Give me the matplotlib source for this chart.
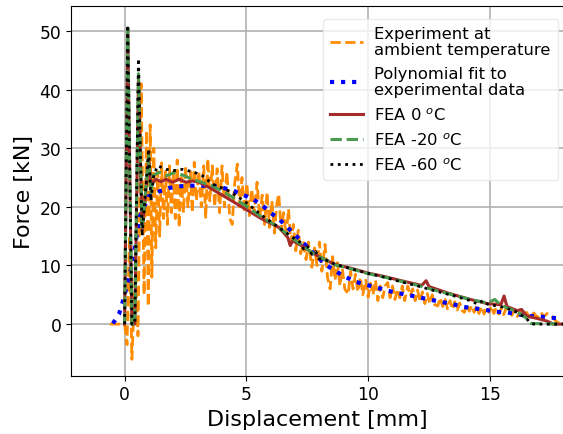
import matplotlib
matplotlib.use("Agg")
import matplotlib.pyplot as plt

# ---------------- data ----------------
exp_x = [-0.6, 0.0, 0.1, 0.2, 0.3, 0.45, 0.55, 0.68, 0.8, 0.9, 0.97, 1.05, 1.12, 1.2, 1.28, 1.36,
         1.44, 1.52, 1.6, 1.68, 1.76, 1.84, 1.92, 2.0, 2.08, 2.16, 2.24, 2.32, 2.42, 2.5, 2.6, 2.7,
         2.78, 2.86, 2.95, 3.05, 3.15, 3.25, 3.33, 3.42, 3.5, 3.6, 3.7, 3.8, 3.9, 4.0, 4.1, 4.2,
         4.32, 4.42, 4.52, 4.63, 4.72, 4.82, 4.92, 5.02, 5.12, 5.22, 5.32, 5.44, 5.55, 5.65, 5.75,
         5.85, 5.95, 6.05, 6.15, 6.25, 6.33, 6.43, 6.53, 6.63, 6.73, 6.83, 6.93, 7.03, 7.13, 7.23,
         7.35, 7.45, 7.55, 7.69, 7.8, 7.9, 8.0, 8.1, 8.23, 8.33, 8.44, 8.54, 8.64, 8.74, 8.84, 8.94,
         9.04, 9.18, 9.28, 9.38, 9.48, 9.58, 9.68, 9.78, 9.9, 10.0, 10.1, 10.2, 10.3, 10.4, 10.5,
         10.6, 10.7, 10.8, 10.9, 11.0, 11.1, 11.2, 11.3, 11.4, 11.5, 11.63, 11.73, 11.83, 11.93,
         12.03, 12.13, 12.23, 12.33, 12.43, 12.53, 12.63, 12.73, 12.86, 12.96, 13.06, 13.16, 13.26,
         13.36, 13.46, 13.56, 13.66, 13.76, 13.86, 13.95, 14.05, 14.15, 14.25, 14.35, 14.45, 14.55,
         14.65, 14.76, 14.86, 14.96, 15.06, 15.16, 15.26, 15.36, 15.46, 15.56, 15.68, 15.8, 15.9,
         16.0, 16.12, 16.25, 16.35, 16.5, 16.65, 16.8, 16.95, 17.1, 17.2, 17.35, 17.5, 17.6, 17.76, 18.0]
exp_y = [0.0, 0.0, -3.5, 15.0, -6.0, 10.0, -2.0, 41.0, 5.0, 33.0, 3.0, 34.0, 8.0, 30.0, 13.0, 26.0,
         15.0, 27.5, 18.0, 26.0, 17.0, 27.0, 19.0, 26.0, 18.0, 28.0, 16.5, 25.0, 19.0, 27.0, 20.0, 26.0,
         19.0, 27.6, 21.0, 26.0, 20.0, 27.0, 18.0, 28.2, 21.0, 27.0, 20.0, 26.5, 19.0, 27.0, 20.0, 26.0,
         18.0, 17.0, 24.0, 27.3, 20.0, 25.0, 19.0, 24.0, 18.5, 23.0, 19.0, 24.2, 18.0, 22.0, 17.0,
         22.5, 16.5, 21.0, 15.5, 20.5, 22.2, 16.0, 19.0, 15.0, 19.6, 14.0, 17.0, 12.5, 16.0, 12.0,
         13.9, 11.0, 14.0, 9.7, 13.0, 10.0, 14.0, 9.0, 13.6, 8.0, 6.0, 11.5, 7.5, 10.5, 6.5, 9.5,
         6.0, 5.1, 9.0, 6.0, 8.5, 5.5, 8.0, 5.0, 7.5, 4.6, 7.0, 5.0, 7.5, 4.0, 6.5,
         4.5, 6.5, 7.1, 4.5, 6.5, 4.2, 6.0, 4.5, 6.5, 4.0, 6.5, 4.8, 6.0, 4.0,
         5.8, 3.8, 5.5, 3.5, 5.2, 3.5, 5.0, 3.3, 3.1, 4.5, 3.0, 4.2, 2.6,
         4.0, 2.5, 3.8, 2.4, 3.6, 2.3, 2.0, 3.4, 2.2, 3.2, 2.0, 3.1, 1.8,
         3.0, 1.7, 3.0, 2.0, 3.1, 1.8, 2.8, 1.7, 2.6, 1.6, 2.85, 2.4, 1.5,
         2.3, 1.3, 2.1, 1.2, 2.0, 1.0, 1.9, 1.1, 2.0, 1.3, 1.8, 1.6, 1.0, 0.3, 0.2]

poly_x = [-0.48, -0.23, -0.09, 0.14, 0.34, 0.48, 0.61, 0.99, 1.4, 1.81, 2.24, 2.72, 3.2, 3.6, 4.08,
          4.49, 4.9, 5.31, 5.69, 6.03, 6.37, 6.71, 7.1, 7.5, 7.9, 8.3, 8.71, 9.09, 9.5, 9.93, 10.38,
          10.79, 11.22, 11.67, 12.11, 12.56, 12.99, 13.47, 13.88, 14.33, 14.79, 15.24, 15.69, 16.12,
          16.5, 17.0, 17.48, 17.9]
poly_y = [0.1, 1.7, 3.6, 7.2, 10.8, 14.6, 18.2, 21.8, 22.6, 23.2, 23.5, 23.6, 23.6, 23.6, 23.2,
          22.7, 22.0, 21.2, 20.1, 18.9, 17.8, 16.4, 14.8, 13.2, 11.5, 10.0, 8.9, 8.0, 7.2, 6.7, 6.2,
          5.7, 5.3, 4.95, 4.55, 4.15, 3.8, 3.4, 2.95, 2.7, 2.45, 2.1, 2.0, 1.7,
          1.4, 1.3, 1.1, 0.97]

fea0_x = [0.0, 0.13, 0.3, 0.42, 0.57, 0.72, 0.99, 1.09, 1.29, 1.5, 1.7, 1.97, 2.24, 2.52, 2.8, 3.06,
          3.6, 4.29, 4.97, 5.65, 6.33, 6.7, 6.8, 6.9, 7.3, 7.69, 8.2, 8.64, 9.32, 10.0, 10.68, 11.36,
          12.2, 12.38, 12.5, 13.27, 14.2, 14.9, 15.45, 15.58, 15.7, 16.12, 16.3, 16.5, 17.0, 17.35,
          17.6, 18.0]
fea0_y = [0.0, 50.0, 0.0, 0.0, 42.0, 16.0, 28.0, 23.9, 24.7, 24.3, 24.7, 24.2, 24.7, 24.2, 24.4, 24.2,
          23.0, 21.3, 19.6, 17.9, 16.5, 14.8, 13.4, 14.2, 13.3, 12.2, 11.0, 10.2, 9.5, 8.7, 8.1, 7.4,
          6.6, 7.4, 6.4, 5.3, 4.2, 3.5, 3.3, 4.8, 3.0, 2.3, 2.5, 1.4, 0.9, 0.5,
          0.0, 0.0]

fea20_x = [0.0, 0.13, 0.3, 0.42, 0.57, 0.72, 0.99, 1.08, 1.16, 1.43, 1.73, 2.07, 2.45, 2.78, 3.6,
           4.29, 4.97, 5.65, 6.33, 7.0, 7.69, 8.64, 9.32, 10.0, 10.68, 11.36, 12.04, 12.72, 13.54,
           14.2, 14.9, 15.2, 15.3, 15.58, 16.12, 16.5, 16.7, 18.0]
fea20_y = [0.0, 50.5, 0.0, 0.0, 42.7, 16.0, 28.7, 22.0, 25.3, 25.9, 25.3, 25.9, 25.3, 24.7, 23.6,
           22.0, 20.2, 18.2, 16.5, 14.3, 12.2, 10.1, 9.4, 8.6, 8.0, 7.3, 6.6, 5.8, 4.9,
           4.2, 3.6, 4.2, 3.8, 3.0, 2.1, 1.0, 0.1, 0.0]

fea60_x = [0.0, 0.13, 0.3, 0.42, 0.57, 0.72, 0.99, 1.08, 1.2, 1.36, 1.7, 2.04, 2.38, 2.86, 3.2, 3.6,
           4.29, 4.97, 5.65, 6.33, 7.0, 7.2, 7.35, 7.5, 7.69, 7.85, 7.96, 8.3, 8.64, 9.32, 10.0,
           10.68, 11.36, 12.04, 12.72, 13.27, 13.54, 14.2, 14.5, 14.7, 14.9, 15.58, 16.12, 16.46,
           16.67, 16.8, 18.0]
fea60_y = [0.0, 51.0, 0.0, 0.0, 45.3, 15.0, 29.9, 21.0, 25.5, 27.0, 26.4, 26.2, 26.4, 25.9, 25.3, 23.9,
           22.7, 20.8, 18.5, 16.5, 14.5, 14.0, 12.8, 13.4, 11.9, 12.4, 11.2, 10.9, 10.2, 9.4, 8.65,
           8.0, 7.2, 6.5, 5.7, 5.1, 4.8, 4.0, 3.4, 4.0, 3.4, 2.85, 2.0, 1.1,
           0.2, 0.0, 0.0]

labels = ["Experiment at\nambient temperature", "Polynomial fit to\nexperimental data",
          r"FEA 0 $^o$C", r"FEA -20 $^o$C", r"FEA -60 $^o$C"]

# ---------------- plot ----------------
fig = plt.figure(figsize=(5.63, 4.35), dpi=100)
ax = fig.add_axes([71 / 563, 58.3 / 435, 492 / 563, 369.4 / 435])

ax.plot(exp_x, exp_y, color="darkorange", ls="--", lw=2, label=labels[0])
ax.plot(poly_x, poly_y, color="blue", ls=":", lw=3, label=labels[1])
ax.plot(fea0_x, fea0_y, color="brown", ls="-", lw=2.2, label=labels[2])
ax.plot(fea20_x, fea20_y, color="#4a9a50", ls="--", lw=2.2, label=labels[3])
ax.plot(fea60_x, fea60_y, color="black", ls=":", lw=2, label=labels[4])

ax.set_xlim(-2.2, 18.0)
ax.set_ylim(-8.8, 54.2)
ax.set_xticks([0, 5, 10, 15])
ax.set_yticks([0, 10, 20, 30, 40, 50])
ax.tick_params(labelsize=12.3)
ax.set_xlabel("Displacement [mm]", fontsize=16)
ax.set_ylabel("Force [kN]", fontsize=16)
ax.set_axisbelow(True)
ax.grid(True, color="#b0b0b0", lw=1.2)
ax.spines["right"].set_visible(False)

leg = ax.legend(loc="upper right", fontsize=11.8, handlelength=2.0, labelspacing=0.52,
                handletextpad=0.7, borderpad=0.45, bbox_to_anchor=(1.0, 0.98), borderaxespad=0.3)
for t in leg.get_texts():
    t.set_linespacing(1.12)
frame = leg.get_frame()
frame.set_facecolor((1, 1, 1, 0))
frame.set_edgecolor((0.9, 0.9, 0.9, 1))

fig.savefig("out.png", dpi=100)
